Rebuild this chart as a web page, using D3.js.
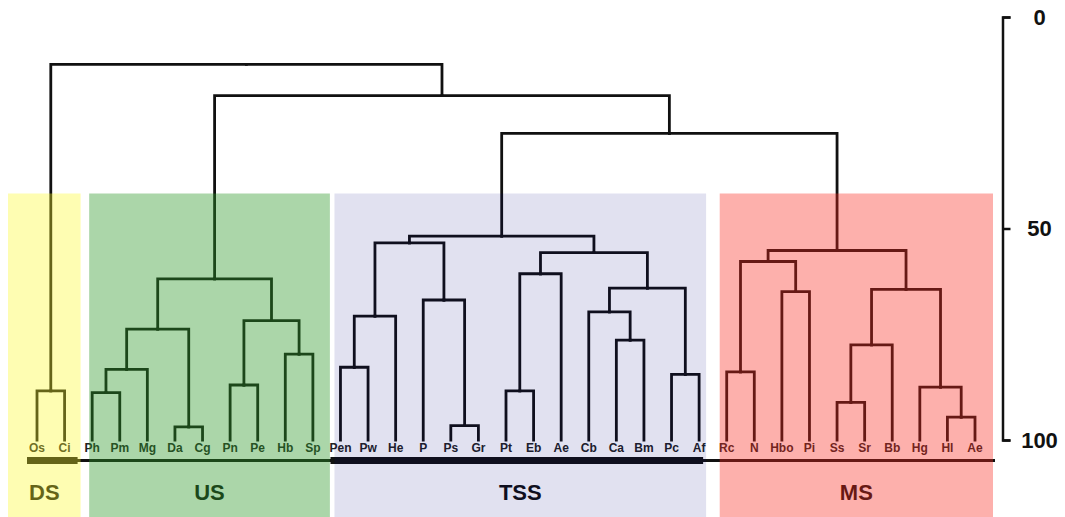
<!DOCTYPE html>
<html>
<head>
<meta charset="utf-8">
<script src="https://cdn.jsdelivr.net/npm/d3@7"></script>
<style>
  body { margin: 0; background: #fff; }
  svg { display: block; font-family: Arial, "Liberation Sans", sans-serif; }
</style>
</head>
<body>
<svg id="chart" width="1065" height="517"></svg>
<script>
// leaf labels, left to right
const leaves = ["Os", "Ci",
  "Ph", "Pm", "Mg", "Da", "Cg", "Pn", "Pe", "Hb", "Sp",
  "Pen", "Pw", "He", "P", "Ps", "Gr", "Pt", "Eb", "Ae", "Cb", "Ca", "Bm", "Pc", "Af",
  "Rc", "N", "Hbo", "Pi", "Ss", "Sr", "Bb", "Hg", "Hl", "Ae"];

// linkage rows: [child a, child b, height]; ids >= leaves.length point to earlier rows
const merges = [
  [0, 1, 88.4],    // 35 Os-Ci
  [2, 3, 88.8],    // 36 Ph-Pm
  [36, 4, 83.3],   // 37
  [5, 6, 96.9],    // 38 Da-Cg
  [37, 38, 73.8],  // 39
  [7, 8, 87.0],    // 40 Pn-Pe
  [9, 10, 79.7],   // 41 Hb-Sp
  [40, 41, 71.8],  // 42
  [39, 42, 61.9],  // 43 US
  [11, 12, 82.8],  // 44 Pen-Pw
  [44, 13, 70.7],  // 45
  [15, 16, 96.6],  // 46 Ps-Gr
  [14, 46, 66.9],  // 47
  [45, 47, 53.4],  // 48
  [17, 18, 88.4],  // 49 Pt-Eb
  [49, 19, 60.7],  // 50
  [21, 22, 76.4],  // 51 Ca-Bm
  [20, 51, 69.7],  // 52
  [23, 24, 84.5],  // 53 Pc-Af
  [52, 53, 64.1],  // 54
  [50, 54, 55.7],  // 55
  [48, 55, 51.8],  // 56 TSS
  [25, 26, 83.9],  // 57 Rc-N
  [27, 28, 64.9],  // 58 Hbo-Pi
  [57, 58, 57.8],  // 59
  [29, 30, 91.1],  // 60 Ss-Sr
  [60, 31, 77.5],  // 61
  [33, 34, 94.6],  // 62 Hl-Ae
  [32, 62, 87.5],  // 63
  [61, 63, 64.4],  // 64
  [59, 64, 55.2],  // 65 MS
  [56, 65, 27.5],  // 66
  [43, 66, 18.6],  // 67
  [35, 67, 11.2]   // 68 root
];

const groupNames = ["DS", "US", "TSS", "MS"];
const groupSizes = [2, 9, 14, 10];
const axisTicks = [0, 50, 100];

// look of each group box: overlay colour + opacity, box padding, thick base bar
const groupStyle = {
  DS:  { fill: "#fcfa2a", opacity: 0.36, padL: 29, padR: 16, thick: true, barR: 13 },
  US:  { fill: "#2d9828", opacity: 0.40, padL: 3,  padR: 17, thick: false },
  TSS: { fill: "#050582", opacity: 0.12, padL: 6,  padR: 7,  thick: true, barR: 4 },
  MS:  { fill: "#f9281e", opacity: 0.37, padL: 7,  padR: 18, thick: false }
};

const svg = d3.select("#chart");
const boxTop = 193.5, baseY = 460.5, groupLabelY = 492;

const x = d3.scalePoint().domain(d3.range(leaves.length)).range([37, 975]);
const y = d3.scaleLinear().domain([0, 100]).range([17, 440]);

// build nested tree from the linkage rows
const nodes = leaves.map((name, i) => ({ id: i, name, height: 100 }));
merges.forEach(([a, b, h], i) => {
  nodes.push({ id: leaves.length + i, height: h, children: [nodes[a], nodes[b]] });
});
const root = d3.hierarchy(nodes[nodes.length - 1]);
root.eachAfter(d => {
  d.px = d.children ? d3.mean(d.children, c => c.px) : x(d.data.id);
  d.py = y(d.data.height);
});

const tree = svg.append("g");

tree.selectAll("path.link").data(root.links()).join("path")
  .classed("link", true)
  .attr("d", l => `M${l.target.px},${l.target.py}V${l.source.py}H${l.source.px}`)
  .attr("fill", "none")
  .attr("stroke", "#111")
  .attr("stroke-width", 2.8)
  .attr("stroke-linecap", "square");

tree.selectAll("text.leaf").data(root.leaves()).join("text")
  .classed("leaf", true)
  .attr("x", d => d.px)
  .attr("y", 452)
  .attr("text-anchor", "middle")
  .attr("font-size", 12)
  .attr("font-weight", "bold")
  .attr("fill", "#222")
  .text(d => d.data.name);

// group extents in leaf index
let start = 0;
const groups = groupNames.map((name, i) => {
  const g = { name, first: start, last: start + groupSizes[i] - 1, ...groupStyle[name] };
  start += groupSizes[i];
  g.x0 = x(g.first) - g.padL;
  g.x1 = x(g.last) + g.padR;
  return g;
});

// base line under the leaves
svg.append("line")
  .attr("x1", x(0) - 10).attr("x2", x(leaves.length - 1) + 20)
  .attr("y1", baseY).attr("y2", baseY)
  .attr("stroke", "#111").attr("stroke-width", 3);

svg.selectAll("line.thick").data(groups.filter(g => g.thick)).join("line")
  .classed("thick", true)
  .attr("x1", g => x(g.first) - 10).attr("x2", g => x(g.last) + g.barR)
  .attr("y1", baseY).attr("y2", baseY)
  .attr("stroke", "#111").attr("stroke-width", 7);

svg.selectAll("text.group").data(groups).join("text")
  .classed("group", true)
  .attr("x", g => (g.x0 + g.x1) / 2)
  .attr("y", groupLabelY)
  .attr("dy", "0.35em")
  .attr("text-anchor", "middle")
  .attr("font-size", 22)
  .attr("font-weight", "bold")
  .attr("fill", "#111")
  .text(g => g.name);

// translucent group boxes laid over the tree
svg.selectAll("rect.box").data(groups).join("rect")
  .classed("box", true)
  .attr("x", g => g.x0)
  .attr("width", g => g.x1 - g.x0)
  .attr("y", boxTop)
  .attr("height", 517 - boxTop)
  .attr("fill", g => g.fill)
  .attr("fill-opacity", g => g.opacity);

// scale on the right
const axis = svg.append("g")
  .attr("transform", "translate(1002.5,0)")
  .call(d3.axisRight(y).tickValues(axisTicks).tickSize(8).tickSizeOuter(8));
axis.select(".domain").attr("stroke", "#111").attr("stroke-width", 2.5);
axis.selectAll(".tick line").attr("stroke", "#111").attr("stroke-width", 2.5);
axis.selectAll(".tick text")
  .attr("x", 37)
  .attr("text-anchor", "middle")
  .attr("font-size", 22)
  .attr("font-weight", "bold")
  .attr("font-family", "Arial, 'Liberation Sans', sans-serif")
  .attr("fill", "#111");
</script>
</body>
</html>
